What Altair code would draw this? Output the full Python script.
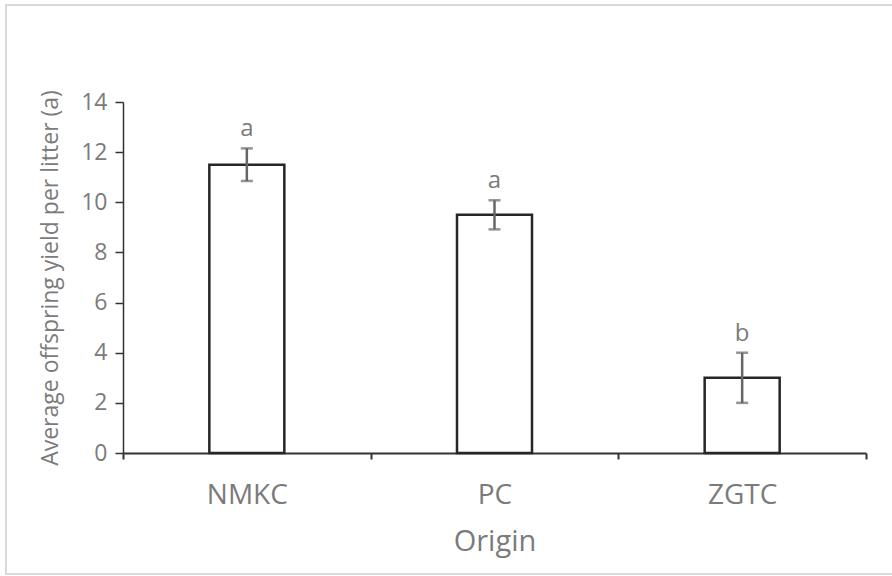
import altair as alt
import pandas as pd

origins = ["NMKC", "PC", "ZGTC"]
means = [11.5, 9.5, 3.0]
errors = [0.65, 0.58, 1.0]
letters = ["a", "a", "b"]

df = pd.DataFrame({
    "Origin": origins,
    "mean": means,
    "lo": [m - e for m, e in zip(means, errors)],
    "hi": [m + e for m, e in zip(means, errors)],
    "letter": letters,
})

FONT = "Open Sans"
GRAY = "#7b7b7b"

x = alt.X("Origin:N", sort=origins, title="Origin",
          scale=alt.Scale(paddingInner=0, paddingOuter=0),
          axis=alt.Axis(labelAngle=0, labelFontSize=28, labelColor=GRAY, labelFont=FONT,
                        titleFontSize=29, titleColor=GRAY, titleFont=FONT, titleFontWeight="normal",
                        titlePadding=18, labelPadding=22,
                        domainColor="#333333", domainWidth=2, tickColor="#333333", tickWidth=2,
                        tickSize=6, tickBand="extent"))

base = alt.Chart(df)

bars = base.mark_bar(size=75, fill="white", stroke="#262626", strokeWidth=2.5).encode(
    x=x,
    y=alt.Y("mean:Q", title="Average offspring yield per litter  (a)",
            scale=alt.Scale(domain=[0, 14], nice=False),
            axis=alt.Axis(values=[0, 2, 4, 6, 8, 10, 12, 14], grid=False,
                          labelFontSize=23, labelColor=GRAY, labelFont=FONT,
                          titleFontSize=23, titleColor=GRAY, titleFont=FONT, titleFontWeight="normal",
                          titlePadding=18, labelPadding=8,
                          domainColor="#333333", domainWidth=1.5, tickColor="#333333", tickWidth=1.5,
                          tickSize=8)),
)

rule = base.mark_rule(color="#666666", strokeWidth=2.5).encode(
    x="Origin:N", y="lo:Q", y2="hi:Q")
cap_hi = base.mark_tick(color="#666666", thickness=2.5, size=12, orient="horizontal").encode(
    x="Origin:N", y="hi:Q")
cap_lo = base.mark_tick(color="#666666", thickness=2.5, size=12, orient="horizontal").encode(
    x="Origin:N", y="lo:Q")
labels = base.mark_text(baseline="bottom", dy=-7, fontSize=24, color=GRAY, font=FONT).encode(
    x="Origin:N", y="hi:Q", text="letter:N")

frame = alt.Chart(df).mark_rect(fill=None, stroke="#d9d9d9", strokeWidth=2).encode(
    x=alt.value(-117), x2=alt.value(800), y=alt.value(-97), y2=alt.value(472))

chart = alt.layer(frame, bars, rule, cap_hi, cap_lo, labels).properties(
    width=743, height=351,
    padding={"left": 123, "top": 102, "right": 26, "bottom": 123},
    autosize=alt.AutoSizeParams(type="none"),
    background="white",
).configure_view(stroke=None)

chart.save("out.html", embed_options={"renderer": "svg", "actions": False})
